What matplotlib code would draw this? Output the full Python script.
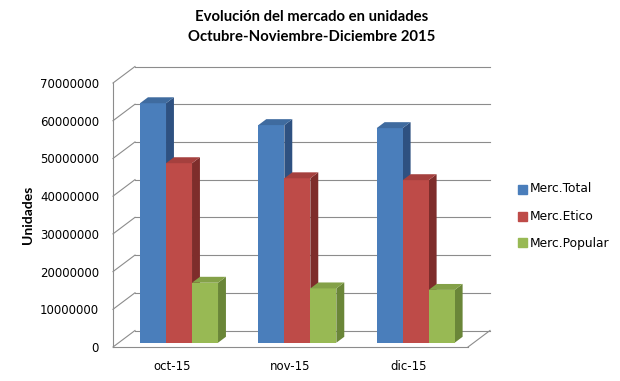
import numpy as np
import matplotlib
matplotlib.use("Agg")
import matplotlib.pyplot as plt
from matplotlib.patches import Polygon

plt.rcParams['font.family'] = ['DejaVu Sans']

# Data
categories = ["oct-15", "nov-15", "dic-15"]
series_names = ["Merc.Total", "Merc.Etico", "Merc.Popular"]
merc_total = [63500000, 57700000, 56900000]
merc_etico = [47600000, 43600000, 43100000]
merc_popular = [15900000, 14400000, 14000000]
y_ticks = [0, 10000000, 20000000, 30000000, 40000000, 50000000, 60000000, 70000000]

front_cols = ["#4A7EBB", "#BE4B48", "#98B954"]
top_cols = ["#3F6B9F", "#A5403E", "#84A148"]
side_cols = ["#2E5181", "#7E2D2B", "#6A8638"]

fig = plt.figure(figsize=(6.2, 3.81), dpi=100)
W, H = 620, 381
ax = fig.add_axes([113 / W, (H - 347) / H, 355 / W, 264 / H])
ax.set_xlim(0, 3)
ax.set_ylim(0, 70000000)

# depth of the box (walls) in data units
px_x = 3 / 355.0
px_y = 70000000 / 264.0
DX = 22 * px_x
DY = 16.5 * px_y

def pt(x, y, d):
    return (x + d * DX, y + d * DY)

grid_kw = dict(color="#8C8C8C", lw=0.8, clip_on=False, zorder=1)

# back wall gridlines + left wall diagonals
for t in y_ticks:
    x0, y0 = pt(0, t, 1)
    x1, y1 = pt(3, t, 1)
    ax.plot([x0, x1], [y0, y1], **grid_kw)
    ax.plot([0, x0], [t, y0], **grid_kw)
ax.plot([0, 0], [0, y_ticks[-1]], **grid_kw)
# floor
ax.plot([0, 3], [0, 0], **grid_kw)
xr, yr = pt(3, 0, 1)
ax.plot([3, xr], [0, yr], **grid_kw)

# 3D-looking bars
bw = 26 * px_x
d0, d1 = 0.26, 0.62
series = [merc_total, merc_etico, merc_popular]
for i, cat in enumerate(categories):
    start = i + 0.18
    for j, vals in enumerate(series):
        x0 = start + j * bw
        v = vals[i]
        bx, by = pt(x0, 0, d0)
        ax.bar(bx, v, width=bw, bottom=by, align="edge",
               color=front_cols[j], lw=0, zorder=3 + j * 0.1, clip_on=False)
        top = [pt(x0, v, d0), pt(x0 + bw, v, d0), pt(x0 + bw, v, d1), pt(x0, v, d1)]
        side = [pt(x0 + bw, 0, d0), pt(x0 + bw, v, d0), pt(x0 + bw, v, d1), pt(x0 + bw, 0, d1)]
        ax.add_patch(Polygon(top, closed=True, color=top_cols[j], lw=0,
                             zorder=3 + j * 0.1, clip_on=False))
        ax.add_patch(Polygon(side, closed=True, color=side_cols[j], lw=0,
                             zorder=2.9 + j * 0.1, clip_on=False))

for s in ax.spines.values():
    s.set_visible(False)
ax.set_yticks(y_ticks)
ax.set_yticklabels([str(t) for t in y_ticks])
ax.tick_params(axis="y", length=0, pad=10, labelsize=8.5, colors="#000000")
ax.set_xticks([0.5, 1.5, 2.5])
ax.set_xticklabels(categories)
ax.tick_params(axis="x", length=0, pad=9, labelsize=8.5)
ax.patch.set_visible(False)

fig.text(28 / W, 1 - 215 / H, "Unidades", rotation=90, ha="center", va="center",
         fontsize=10, fontweight="bold", family="Lato")
fig.text(312 / W, 1 - 17 / H, "Evolución del mercado en unidades", ha="center",
         va="center", fontsize=10.7, fontweight="bold", family="Lato")
fig.text(312 / W, 1 - 37 / H, "Octubre-Noviembre-Diciembre 2015", ha="center",
         va="center", fontsize=10.7, fontweight="bold", family="Lato")

# legend
for j, name in enumerate(series_names):
    yy = 1 - (189 + j * 27) / H
    fig.patches.append(plt.Rectangle((518 / W, yy - 4.5 / H), 9 / W, 9 / H,
                                     transform=fig.transFigure, color=front_cols[j]))
    fig.text(530 / W, yy, name, ha="left", va="center", fontsize=8.8)

fig.savefig("out.png", dpi=100)
